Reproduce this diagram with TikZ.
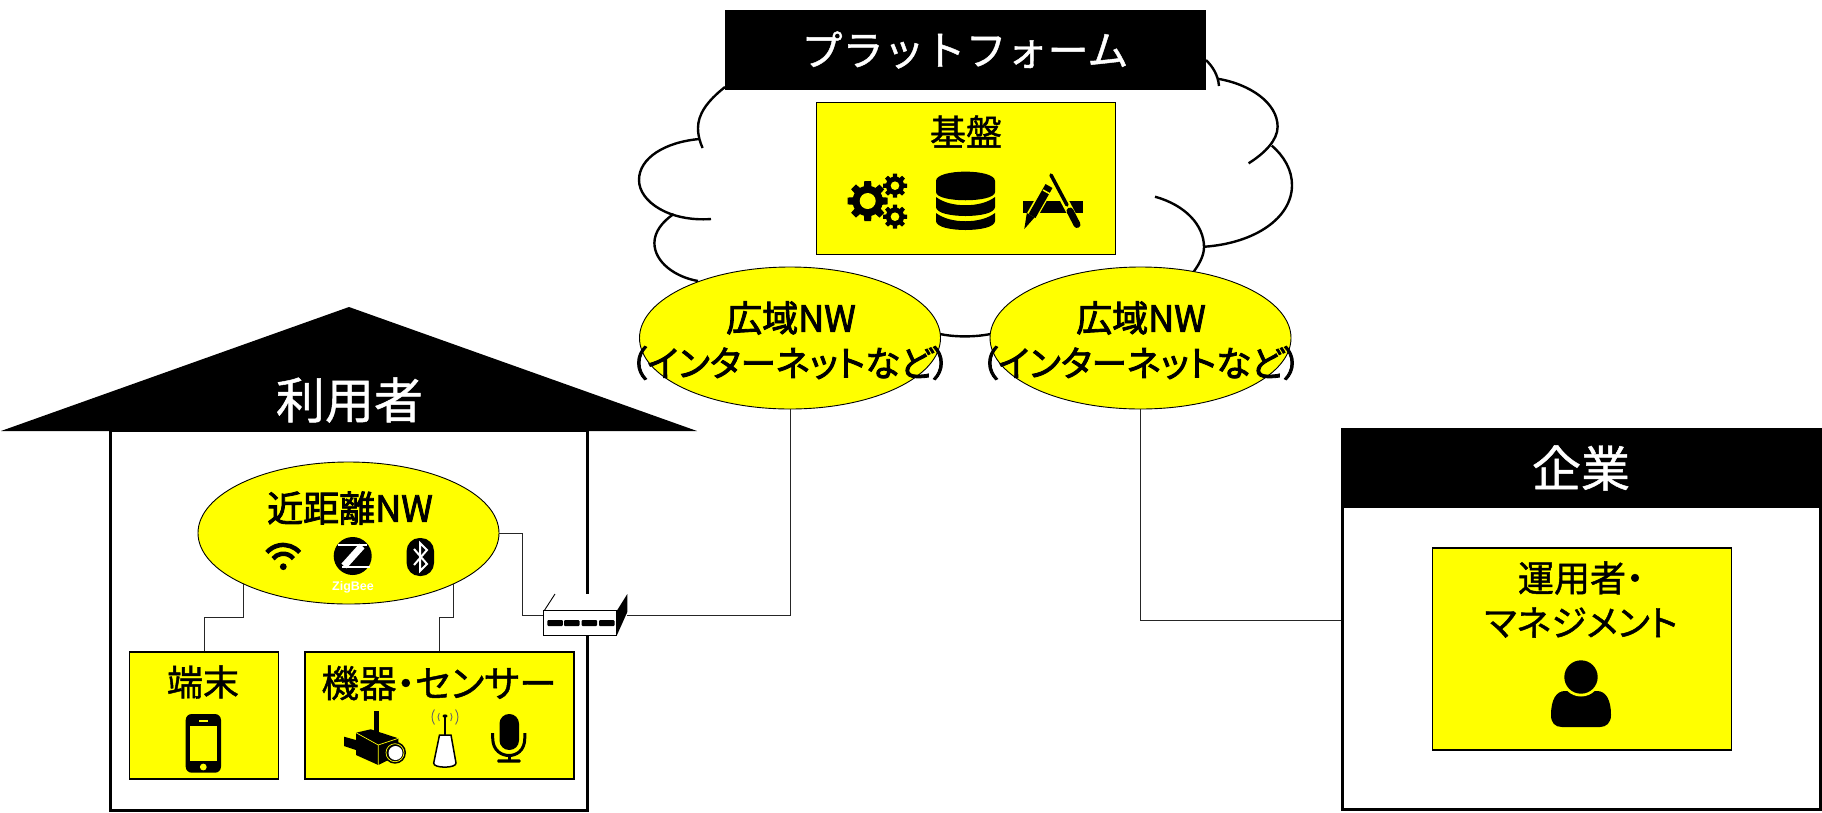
\documentclass[tikz,border=0pt]{standalone}
\usepackage{fontspec}
\usetikzlibrary{shapes.geometric}
\setmainfont{Noto Sans CJK JP}
\newfontfamily\jpf[RawFeature=+palt,FakeBold=1.2]{Noto Sans CJK JP}
\newfontfamily\jpw[FakeBold=1]{Noto Sans CJK JP}
\newfontfamily\jpbold[RawFeature=+palt,FakeBold=2.4]{Noto Sans CJK JP}
\newfontfamily\latinf{Liberation Sans}
\definecolor{yel}{RGB}{255,255,0}
\tikzset{
  yelbox/.style={draw=black,line width=1.1pt,fill=yel,inner sep=0pt},
  yelell/.style={ellipse,draw=black,line width=0.9pt,fill=yel,inner sep=0pt},
  wallbox/.style={draw=black,line width=3pt,fill=white,inner sep=0pt},
  cloudline/.style={draw=black,line width=2.4pt},
  conn/.style={draw=black!85,line width=1pt},
  ttxt/.style={inner sep=0pt,align=center,text=black},
  wtxt/.style={inner sep=0pt,text=white},
  t36/.style={font=\jpf\fontsize{36}{36}\selectfont},
  t38/.style={font=\jpf\fontsize{37.5}{37.5}\selectfont},
  b36/.style={font=\jpbold\fontsize{36}{36}\selectfont},
  b33/.style={font=\jpbold\fontsize{35.5}{35.5}\selectfont},
}
\newcommand{\gearicon}[4]{%
  \foreach \a in {0,45,...,315}{
    \fill[black,shift={(#1,#2)},rotate=\a] ({-.24*#3},0) -- ({-.17*#3},#3) -- ({.17*#3},#3) -- ({.24*#3},0) -- cycle;
  }
  \fill[black] (#1,#2) circle[radius=#3*0.76pt];
  \fill[yel] (#1,#2) circle[radius=#4 pt];
}
\begin{document}
\begin{tikzpicture}[x=1pt,y=-1pt]
\useasboundingbox (0,0) rectangle (1822,812);
% cloud
\draw[cloudline] (725,87) .. controls (706,102) and (698,115) .. (698,128) .. controls (698,136) and (700,142) .. (702.6,148);
\draw[cloudline] (699.5,139) .. controls (665,142) and (639,158) .. (639,180) .. controls (639,202) and (670,222) .. (711,219);
\draw[cloudline] (673.6,214) .. controls (662,222) and (654.4,232) .. (654.4,243) .. controls (654.4,262) and (675,277) .. (698,281);
\draw[cloudline] (936,333) .. controls (950,337) and (975,338) .. (995,333);
\draw[cloudline] (1155,196.7) .. controls (1185,205) and (1204,225) .. (1204,247) .. controls (1204,255) and (1200,263) .. (1193.7,271.7);
\draw[cloudline] (1204.8,246.7) .. controls (1255,243) and (1292,218) .. (1292,185) .. controls (1292,170) and (1284,156) .. (1271.8,145.7);
\draw[cloudline] (1248.6,163.3) .. controls (1265,153) and (1277.6,140) .. (1277.6,126.7) .. controls (1277.6,103) and (1250,84) .. (1217.3,78.7);
\draw[cloudline] (1219,86) .. controls (1218,75) and (1213,67) .. (1206,60);
% platform
\node[fill=black,inner sep=0,minimum width=481pt,minimum height=79.5pt] (platbar) at (965.5,49.8) {};
\node[wtxt,font=\jpw\fontsize{41}{41}\selectfont] (plat) at (965,50) {プラットフォーム};
\node[yelbox,minimum width=299.5pt,minimum height=152pt] (kiban) at (965.8,178.3) {};
\node[ttxt,t36] (kibant) at (966,131.5) {基盤};
% gears
\gearicon{867.7}{201}{20}{8}
\gearicon{895}{185.7}{12}{4.3}
\gearicon{895}{216.7}{12}{4.3}
% database
\fill[black] (936,181) .. controls (936,168.5) and (995,168.5) .. (995,181) -- (995,192) .. controls (995,203) and (936,203) .. (936,192) -- cycle;
\fill[black] (936,197) .. controls (950,208) and (981,208) .. (995,197) -- (995,207) .. controls (995,219) and (936,219) .. (936,207) -- cycle;
\fill[black] (936,213) .. controls (950,224) and (981,224) .. (995,213) -- (995,221) .. controls (995,233) and (936,233) .. (936,221) -- cycle;
% app icon
\fill[black] (1022.7,201) rectangle (1083.3,212.7);
\draw[yel,line width=11pt] (1030,219) -- (1050,184);
\draw[black,line width=8pt] (1032,216) -- (1049,186);
\draw[yel,line width=1.5pt] (1043,190) -- (1052,195);
\fill[black] (1024.3,229) -- (1026.8,213) -- (1034.5,217.5) -- cycle;
\draw[yel,line width=8pt] (1054,181) -- (1078,226);
\draw[black,line width=3.5pt,line cap=round] (1051,175) -- (1067,205);
\draw[black,line width=7pt,line cap=round] (1070,211) -- (1077,224.5);
% wan ellipses
\node[yelell,minimum width=301pt,minimum height=142pt] (wanA) at (790,338) {};
\node[yelell,minimum width=301pt,minimum height=142pt] (wanB) at (1140.5,338) {};
\node[ttxt,b36] (wanAa) at (791,318) {広域NW};
\node[ttxt,b33] (wanAb) at (790,363) {（インターネットなど）};
\node[ttxt,b36] (wanBa) at (1141,318) {広域NW};
\node[ttxt,b33] (wanBb) at (1141,363) {（インターネットなど）};
% house
\fill[black] (1,431) -- (349,307) -- (697,431) -- cycle;
\node[wallbox,minimum width=477pt,minimum height=380pt] (house) at (349,620.5) {};
\node[wtxt,font=\jpw\fontsize{49}{49}\selectfont] (houset) at (349.5,400) {利用者};
% corporate
\node[wallbox,minimum width=477.5pt,minimum height=379.5pt] (corp) at (1581.7,620.2) {};
\node[fill=black,inner sep=0,minimum width=481pt,minimum height=79.5pt] (corpbar) at (1581.5,468) {};
\node[wtxt,font=\jpw\fontsize{49}{49}\selectfont] (corpt) at (1581,468) {企業};
\node[yelbox,minimum width=299pt,minimum height=202pt] (oper) at (1582,649) {};
\node[ttxt,t36] (opera) at (1581,578) {運用者・};
\node[ttxt,t36] (operb) at (1581,622.5) {マネジメント};
% person
\fill[black] (1551,715) .. controls (1551,700) and (1556,691) .. (1565,691) -- (1597,691) .. controls (1606,691) and (1611,700) .. (1611,715) .. controls (1611,723) and (1606,727) .. (1600,727) -- (1562,727) .. controls (1555,727) and (1551,723) .. (1551,715) -- cycle;
\fill[yel] (1581,677) circle[radius=19.5pt];
\fill[black] (1581,677) circle[radius=16.7pt];
% near-field
\node[yelell,minimum width=301pt,minimum height=142pt] (near) at (348.5,533) {};
\node[ttxt,b36] (neart) at (350,508) {近距離NW};
\node[yelbox,minimum width=149.5pt,minimum height=127pt] (tan) at (204,715.5) {};
\node[yelbox,minimum width=269pt,minimum height=127pt] (kiki) at (439.5,715.5) {};
\node[ttxt,t36] (tant) at (203,682) {端末};
\node[ttxt,t38] (kikit) at (439,683) {機器・センサー};
% connectors
\coordinate (c1) at (204,617.7);
\coordinate (c2) at (439.5,617.7);
\coordinate (k) at (522,615);
\coordinate (swL) at (545,615);
\coordinate (swR) at (627,615);
\draw[conn] (near.206) |- (c1) -- (tan.north);
\draw[conn] (near.334.7) |- (c2) -- (kiki.north);
\draw[conn] (near.east) -| (k) -- (swL);
\draw[conn] (wanA.south) |- (swR);
\draw[conn] (wanB.south) |- (corp.west);
% switch
\fill[white] (544,611) -- (555,594) -- (627.3,594) -- (616.7,611) -- cycle;
\draw[black,line width=0.9pt] (544,611) -- (555,594);
\node[draw=black,fill=white,line width=1pt,inner sep=0,minimum width=72.7pt,minimum height=24.7pt] (sw) at (580.3,623.3) {};
\fill[black] (616.7,611) -- (627.3,594) -- (627.3,612) -- (616.7,635.7) -- cycle;
\foreach \x in {547.3,564,581.7,599}
  \fill[black,rounded corners=1pt] (\x,620) rectangle ++(15.5,6);
% wifi
\fill[black] (283.3,566.7) circle[radius=3.4pt];
\draw[black,line width=4.5pt] (283.3,566.7) ++(10.2,-8) arc[start angle=38,end angle=142,radius=13pt];
\draw[black,line width=4.5pt] (283.3,566.7) ++(16.3,-14.3) arc[start angle=41,end angle=139,radius=21.7pt];
% zigbee
\fill[black] (352.7,556) circle[radius=19pt];
\draw[white,line width=2pt] (338,545) -- (367,545);
\draw[white,line width=7pt] (362,546) -- (344,566);
\draw[white,line width=2pt] (342,567) -- (370,567);
\node[wtxt,font=\latinf\bfseries\fontsize{12.5}{12.5}\selectfont] (zig) at (353,587) {ZigBee};
% bluetooth
\fill[black,rounded corners=13pt] (406.6,538) rectangle (434,576);
\draw[white,line width=2pt] (414,549) -- (427,564) -- (420,571) -- (420,543) -- (427,550) -- (414,565);
% phone
\fill[black,rounded corners=6pt] (185.7,714) rectangle (221,772.7);
\fill[yel] (190,726) rectangle (217,761.3);
\fill[yel] (199,720) rectangle (208,721.5);
\fill[yel] (203.3,767) circle[radius=3.4pt];
% camera
\fill[black] (374,711) rectangle (379.3,735);
\fill[black] (344,736.7) -- (356,740) -- (356,750) -- (344,746) -- cycle;
\fill[black] (356,732.7) -- (370.7,729.3) -- (398.3,738.3) -- (398.3,755) -- (378.3,765) -- (356,755) -- cycle;
\draw[yel,line width=0.7pt] (356,732.7) -- (378.3,745) -- (398.3,738.3) (378.3,745) -- (378.3,765);
\fill[black] (395,752.7) circle[radius=11pt];
\draw[yel,line width=0.7pt] (395,752.7) circle[radius=9pt];
\fill[white] (395.5,753) circle[radius=7pt];
% router
\draw[black,line width=1.5pt] (445,716) -- (445,735);
\fill[black] (445,716) ellipse[x radius=2.5pt,y radius=1.6pt];
\draw[black!60,line width=0.9pt] (445,717) ++(5.7,-4) arc[start angle=35,end angle=-35,radius=7pt];
\draw[black!60,line width=0.9pt] (445,717) ++(-5.7,-4) arc[start angle=145,end angle=215,radius=7pt];
\draw[black!60,line width=0.9pt] (445,717) ++(10.6,-7.5) arc[start angle=35,end angle=-35,radius=13pt];
\draw[black!60,line width=0.9pt] (445,717) ++(-10.6,-7.5) arc[start angle=145,end angle=215,radius=13pt];
\draw[black,fill=white,line width=1.5pt] (439.5,735) -- (451,735) -- (456,763) .. controls (456.5,768.5) and (433,768.5) .. (433.7,763) -- cycle;
% mic
\fill[black,rounded corners=9.6pt] (499.5,714) rectangle (519,750);
\draw[black,line width=3pt] (492.7,733) -- (492.7,738) .. controls (492.7,751) and (502,755.5) .. (509,755.5) .. controls (516,755.5) and (524.8,751) .. (524.8,738) -- (524.8,733);
\draw[black,line width=3pt] (509,755) -- (509,761);
\fill[black,rounded corners=1pt] (497.3,759.3) rectangle (520.5,762.7);
\end{tikzpicture}
\end{document}
